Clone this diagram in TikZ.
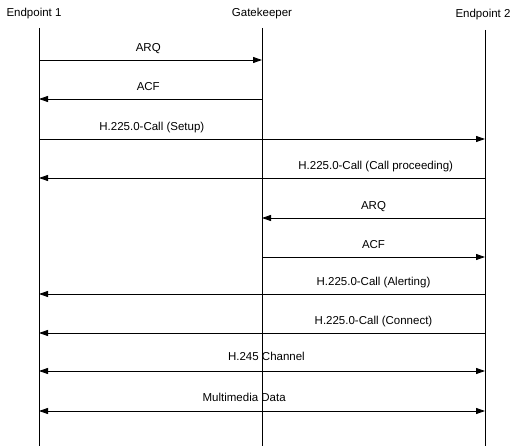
\documentclass[tikz,border=0pt]{standalone}
\usepackage{fontspec}
\setmainfont{Liberation Sans}
\usetikzlibrary{arrows.meta}
\begin{document}
\begin{tikzpicture}[x=1pt,y=-1pt,
  head/.style={font=\fontsize{11.5}{13}\selectfont, inner sep=0pt, anchor=base},
  life/.style={line width=0.8pt},
  msg/.style={line width=0.9pt, -{Triangle[length=9pt,width=6pt]}},
  bimsg/.style={line width=0.9pt, {Triangle[length=9pt,width=6pt]}-{Triangle[length=9pt,width=6pt]}},
  lab/.style={font=\fontsize{11.5}{13}\selectfont, inner sep=0pt, anchor=base, yshift=8.5pt}]
\useasboundingbox (0,0) rectangle (514,446);
% headers
\node[head] (e1) at (34,17) {Endpoint 1};
\node[head] (gk) at (262,17) {Gatekeeper};
\node[head] (e2) at (483,18) {Endpoint 2};
% lifelines
\coordinate (e1t) at (39,28); \coordinate (e1b) at (39,446);
\coordinate (gkt) at (262,28); \coordinate (gkb) at (262,446);
\coordinate (e2t) at (485,30); \coordinate (e2b) at (485,446);
\draw[life] (e1t) -- (e1b);
\draw[life] (gkt) -- (gkb);
\draw[life] (e2t) -- (e2b);
% message anchor points
\foreach \n/\y in {1/60,2/99,3/139,4/178,5/218,6/257,7/294,8/333,9/371,10/411}{
  \coordinate (a\n) at (39,\y);
  \coordinate (g\n) at (262,\y);
  \coordinate (b\n) at (485,\y);
}
\draw[msg] (a1) -- node[lab, pos=0.49] {ARQ} (g1);
\draw[msg] (g2) -- node[lab, pos=0.51] {ACF} (a2);
\draw[msg] (a3) -- node[lab, pos=0.253] {H.225.0-Call (Setup)} (b3);
\draw[msg] (b4) -- node[lab, pos=0.245] {H.225.0-Call (Call proceeding)} (a4);
\draw[msg] (b5) -- node[lab, pos=0.5] {ARQ} (g5);
\draw[msg] (g6) -- node[lab, pos=0.5] {ACF} (b6);
\draw[msg] (b7) -- node[lab, pos=0.25] {H.225.0-Call (Alerting)} (a7);
\draw[msg] (b8) -- node[lab, pos=0.25] {H.225.0-Call (Connect)} (a8);
\draw[bimsg] (a9) -- node[lab, pos=0.51, yshift=2pt] {H.245 Channel} (b9);
\draw[bimsg] (a10) -- node[lab, pos=0.46, yshift=1pt] {Multimedia Data} (b10);
\end{tikzpicture}
\end{document}
